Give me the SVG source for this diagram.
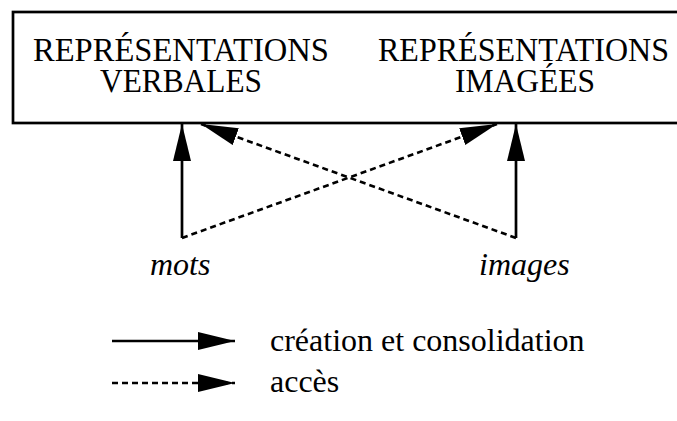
<svg xmlns="http://www.w3.org/2000/svg" width="677" height="421" viewBox="0 0 677 421">
<style>
.t{font-family:"Liberation Serif","Times New Roman",serif;font-size:32px;fill:#000}
.h{font-size:34px}
.i{font-style:italic}
.s{stroke:#000;stroke-width:2.7;fill:none}
.d{stroke:#000;stroke-width:2.6;fill:none;stroke-dasharray:6 4}
</style>
<defs>
<marker id="ah" markerUnits="userSpaceOnUse" markerWidth="39" markerHeight="19" refX="37" refY="9" orient="auto" viewBox="0 0 39 19">
<path d="M0,0 L37,9 L0,18 z" fill="#000"/>
</marker>
</defs>
<g id="box">
<rect x="13" y="12" width="680" height="111" fill="#fff" stroke="#000" stroke-width="2.7"/>
<text class="t h" x="33" y="61" textLength="296" lengthAdjust="spacingAndGlyphs">REPRÉSENTATIONS</text>
<text class="t h" x="100" y="92" textLength="162" lengthAdjust="spacingAndGlyphs">VERBALES</text>
<text class="t h" x="378" y="61" textLength="291" lengthAdjust="spacingAndGlyphs">REPRÉSENTATIONS</text>
<text class="t h" x="455" y="92" textLength="140" lengthAdjust="spacingAndGlyphs">IMAGÉES</text>
</g>
<g id="mots"><text class="t i" x="150" y="275">mots</text></g>
<g id="images"><text class="t i" x="479" y="275">images</text></g>
<g id="connectors">
<line class="s" x1="182" y1="238" x2="182" y2="124" marker-end="url(#ah)"/>
<line class="s" x1="516" y1="238" x2="516" y2="124" marker-end="url(#ah)"/>
<line class="d" x1="182" y1="238" x2="497" y2="124" marker-end="url(#ah)"/>
<line class="d" x1="516" y1="238" x2="201" y2="124" marker-end="url(#ah)"/>
</g>
<g id="legend">
<line class="s" x1="112" y1="341" x2="235" y2="341" marker-end="url(#ah)"/>
<text class="t" x="270" y="351">création et consolidation</text>
<line class="d" x1="112" y1="383" x2="235" y2="383" marker-end="url(#ah)"/>
<text class="t" x="270" y="392">accès</text>
</g>
</svg>
